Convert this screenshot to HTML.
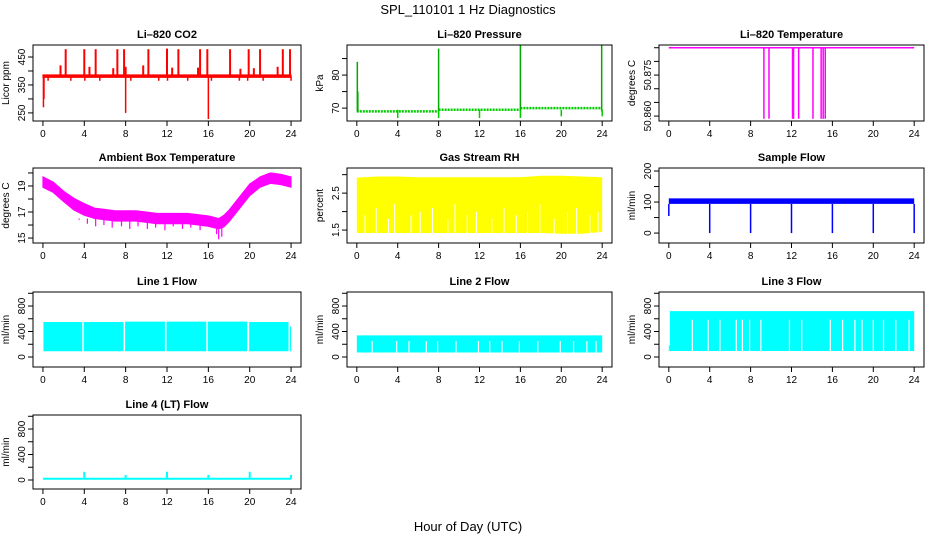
<!DOCTYPE html>
<html><head><meta charset="utf-8"><title>SPL_110101 1 Hz Diagnostics</title>
<style>
html,body{margin:0;padding:0;background:#fff;}
svg{display:block;font-family:"Liberation Sans",Arial,sans-serif;}
</style></head>
<body>
<svg id="chart" width="936" height="540" viewBox="0 0 936 540" xmlns="http://www.w3.org/2000/svg">
<text x="468" y="14" text-anchor="middle" font-size="13">SPL_110101  1 Hz Diagnostics</text>
<text x="468" y="531" text-anchor="middle" font-size="13">Hour of Day (UTC)</text>
</svg>
<script>
// ---- data ----
const xTicks = [0,4,8,12,16,20,24];
// CO2
const co2Base = 381;
const co2SpikeHours = [2.2,4.0,5.1,7.2,7.85,10.2,12.0,13.1,15.2,15.9,18.1,19.9,21.0,23.2,23.9,1.7,4.5,6.8,8.0,9.7,12.5,15.0,19.1,20.4,22.7];
const co2SpikeValues = [478,478,478,478,478,478,480,478,478,478,478,478,478,478,478,420,415,410,415,420,412,412,408,410,415];
const co2DipHours = [0.05,0.1,8.0,16.0,0.5,2.7,4.05,5.5,8.5,11.2,12.05,14.0,16.3,19.0,19.8,21.3,24.0];
const co2DipValues = [270,300,250,228,365,365,365,365,365,365,365,365,365,365,365,365,365];
// Pressure
const presStepHours = [0,8,16,24];
const presStepLevels = [69.0,69.5,70.0];
const presSpikeHours = [0.05,8.0,16.0,23.95,0.1];
const presSpikeValues = [84,88,89,89,75];
const presDipHours = [4,8,12,16,20,24];
const presDipValues = [67,67,67,67,67.5,67.5];
// Li-820 temperature
const ltBase = 50.885;
const ltDipHours = [9.3,9.8,12.1,12.2,12.7,14.1,14.9,15.1,15.3];
const ltDipValues = [50.859,50.859,50.859,50.859,50.859,50.859,50.859,50.859,50.859];
// Ambient box temperature (hourly)
const ambHours = [0,1,2,3,4,5,6,7,8,9,10,11,12,13,14,15,16,17,17.5,18,19,20,21,22,23,24];
const ambCenter = [19.3,18.9,18.2,17.6,17.2,16.9,16.8,16.7,16.7,16.7,16.6,16.5,16.5,16.5,16.5,16.4,16.3,16.1,16.3,16.7,17.7,18.7,19.3,19.6,19.5,19.3];
const ambHalf = [0.4,0.4,0.4,0.45,0.45,0.4,0.4,0.4,0.4,0.4,0.4,0.4,0.4,0.4,0.4,0.4,0.4,0.4,0.45,0.45,0.45,0.45,0.4,0.4,0.4,0.4];
const ambDipHours = [3.5,4.3,5.1,5.9,6.7,7.6,8.4,9.2,10.1,10.9,11.8,12.6,13.5,14.3,15.2,16.0,16.8,17.0,17.3];
const ambDipValues = [16.4,16.1,15.9,16.0,15.8,15.9,15.7,15.9,15.7,15.8,15.6,15.9,15.7,15.8,15.6,15.9,15.3,14.9,15.1];
// Gas stream RH
const rhHours = [0,2,4,6,8,10,12,14,16,18,20,22,24];
const rhUpper = [2.92,2.95,2.95,2.93,2.93,2.93,2.93,2.93,2.93,2.97,2.97,2.95,2.93];
const rhLower = [1.42,1.42,1.42,1.42,1.42,1.42,1.42,1.42,1.42,1.42,1.40,1.40,1.45];
const rhGapHours = [0.8,1.9,3.1,3.7,5.3,6.2,7.4,8.9,9.6,10.8,11.7,13.2,14.4,15.6,16.7,17.9,19.3,20.6,21.5,22.8,23.6];
const rhGapTops = [1.9,2.1,1.8,2.2,1.9,2.0,2.1,1.8,2.2,1.9,2.0,1.8,2.1,1.9,2.0,2.2,1.8,2.0,2.1,1.9,2.0];
// Sample flow
const sfLow = 94, sfHigh = 112;
const sfDipHours = [0.0,4.0,8.0,12.0,16.0,20.0,24.0];
const sfDipValues = [55,0,0,0,0,0,0];
// Line flows: segments [start,end]
const l1Segs = [[0.05,3.8],[3.95,7.8],[7.95,11.8],[11.95,15.8],[15.95,19.75],[19.95,23.75],[23.9,24.0]];
const l1High = [550,550,555,555,555,550,480];
const l1Low = [90,90,90,90,90,90,90];
const l2Low = 70, l2High = 340, l2GapTop = 250;
const l2Gaps = [1.5,3.9,5.1,6.8,7.9,9.7,11.9,13.0,14.2,15.9,17.7,19.9,21.2,22.5,23.4];
const l3Low = 95, l3High = 720, l3GapTop = 585;
const l3Gaps = [2.3,3.85,5.0,6.6,7.2,7.9,9.0,11.8,13.0,15.8,17.0,18.2,18.9,20.0,21.0,22.2,23.5];
const l4Base = 20;
const l4SpikeHours = [4,8,12,16,20,24];
const l4SpikeValues = [130,80,130,80,130,80];

// ---- helpers ----
const NS="http://www.w3.org/2000/svg";
const svg=document.getElementById('chart');
function mk(tag,attrs,parent){const e=document.createElementNS(NS,tag);for(const k in attrs)e.setAttribute(k,attrs[k]);(parent||svg).appendChild(e);return e;}
const cols=[[33,301],[347,612],[659,924]];
const rows=[[45,121],[168,243],[292,367],[415,489]];
function panel(name,title,ylab,c,r,ymin,ymax,yticks,ylabels){
  const [L,R]=cols[c],[T,B]=rows[r];
  const g=mk('g',{});
  
  
  const sx=v=>L+(v+0.96)/25.92*(R-L);
  const sy=v=>B-(v-ymin)/(ymax-ymin)*(B-T);
  const t=mk('text',{x:(L+R)/2,y:T-7,'text-anchor':'middle','font-size':11,'font-weight':'bold'},g);
  t.textContent=title;
  
  
  const yl=mk('text',{x:0,y:0,'text-anchor':'middle','font-size':10,transform:`translate(${L-24},${(T+B)/2}) rotate(-90)`},g);
  yl.textContent=ylab;
  
  
  const plot=mk('g',{},g);
  
  
  const box=mk('rect',{x:L,y:T,width:R-L,height:B-T,fill:'none',stroke:'#000','stroke-width':1},g);
  
  
  xTicks.forEach(v=>{
    mk('line',{x1:sx(v),x2:sx(v),y1:B,y2:B+5,stroke:'#000'},g);
    const tx=mk('text',{x:sx(v),y:B+16,'text-anchor':'middle','font-size':10},g);
    tx.textContent=v;
    
    
  });
  yticks.forEach((v,i)=>{
    mk('line',{x1:L,x2:L-5,y1:sy(v),y2:sy(v),stroke:'#000'},g);
    if(ylabels[i]!==''){
      const ty=mk('text',{x:0,y:0,'text-anchor':'middle','font-size':10,transform:`translate(${L-8},${sy(v)}) rotate(-90)`},g);
      ty.textContent=ylabels[i];
      
      
    }
  });
  return {sx,sy,g:plot,L,R,T,B};
}
function vline(p,x,y1,y2,col,w){return mk('line',{x1:p.sx(x),x2:p.sx(x),y1:p.sy(y1),y2:p.sy(y2),stroke:col,'stroke-width':w||1.5},p.g);}
function band(p,xs,lo,hi,col,sw){
  let d='M'+xs.map((x,i)=>p.sx(x)+','+p.sy(hi[i])).join('L');
  d+='L'+xs.map((x,i)=>p.sx(x)+','+p.sy(lo[i])).reverse().join('L')+'Z';
  return mk('path',{d,fill:col,stroke:sw?col:'none','stroke-width':sw||0},p.g);
}

// CO2
let p=panel('co2','Li\u2013820 CO2','Licor ppm',0,0,221,493,[250,300,350,400,450],['250','','350','','450']);
co2SpikeHours.forEach((h,i)=>vline(p,h,co2Base,co2SpikeValues[i],'#f00',2));
co2DipHours.forEach((h,i)=>vline(p,h,co2Base,co2DipValues[i],'#f00',1.5));
band(p,[0,24],[co2Base-4,co2Base-4],[co2Base+5,co2Base+5],'#f00',1);

// Pressure
p=panel('pressure','Li\u2013820 Pressure','kPa',1,0,66.1,89.1,[70,75,80,85],['70','','80','']);
presStepLevels.forEach((v,i)=>{mk('line',{x1:p.sx(presStepHours[i]),x2:p.sx(presStepHours[i+1]),y1:p.sy(v),y2:p.sy(v),stroke:'#0c0','stroke-width':2.5,'stroke-dasharray':'2 1'},p.g);});
presSpikeHours.forEach((h,i)=>vline(p,h,69,presSpikeValues[i],'#0a0',1.5));
presDipHours.forEach((h,i)=>vline(p,h,69.5,presDipValues[i],'#0c0',1.5));

// Li-820 temperature
p=panel('li820-temp','Li\u2013820 Temperature','degrees C',2,0,50.8582,50.886,[50.860,50.865,50.870,50.875,50.880,50.885],['50.860','','','50.875','','']);
mk('line',{x1:p.sx(0),x2:p.sx(24),y1:p.sy(ltBase),y2:p.sy(ltBase),stroke:'#f0f','stroke-width':1.5},p.g);
ltDipHours.forEach((h,i)=>vline(p,h,ltBase,ltDipValues[i],'#f0f',1.5));

// Ambient
p=panel('ambient-temp','Ambient Box Temperature','degrees C',0,1,14.62,20.38,[15,16,17,18,19,20],['15','','17','','19','']);
band(p,ambHours,ambCenter.map((c,i)=>c-ambHalf[i]),ambCenter.map((c,i)=>c+ambHalf[i]),'#f0f',1);
ambDipHours.forEach((h,i)=>vline(p,h,16.5,ambDipValues[i],'#f0f',1.2));

// RH
p=panel('gas-rh','Gas Stream RH','percent',1,1,1.15,3.18,[1.5,2.0,2.5,3.0],['1.5','','2.5','']);
band(p,rhHours,rhLower,rhUpper,'#ff0');
rhGapHours.forEach((h,i)=>vline(p,h,1.3,rhGapTops[i],'#fff',1));

// Sample flow
p=panel('sample-flow','Sample Flow','ml/min',2,1,-32,209.7,[0,50,100,150,200],['0','','100','','200']);
band(p,[0,24],[sfLow,sfLow],[sfHigh,sfHigh],'#00f');
sfDipHours.forEach((h,i)=>vline(p,h,sfLow,sfDipValues[i],'#00f',1.5));

// Line 1
p=panel('line1-flow','Line 1 Flow','ml/min',0,2,-157,1020,[0,200,400,600,800,1000],['0','','400','','800','']);
l1Segs.forEach((s,i)=>band(p,s,[l1Low[i],l1Low[i]],[l1High[i],l1High[i]],'#0ff'));

// Line 2
p=panel('line2-flow','Line 2 Flow','ml/min',1,2,-157,1020,[0,200,400,600,800,1000],['0','','400','','800','']);
band(p,[0,24],[l2Low,l2Low],[l2High,l2High],'#0ff');
l2Gaps.forEach(h=>vline(p,h,l2Low-5,l2GapTop,'#fff',1.2));

// Line 3
p=panel('line3-flow','Line 3 Flow','ml/min',2,2,-157,1020,[0,200,400,600,800,1000],['0','','400','','800','']);
band(p,[0.1,24],[l3Low,l3Low],[l3High,l3High],'#0ff');
band(p,[0,0.1],[l3Low,l3Low],[180,180],'#0ff');
l3Gaps.forEach(h=>vline(p,h,l3Low-5,l3GapTop,'#fff',1.2));

// Line 4
p=panel('line4-flow','Line 4 (LT) Flow','ml/min',0,3,-141,1020,[0,200,400,600,800,1000],['0','','400','','800','']);
band(p,[0,24],[l4Base-15,l4Base-15],[l4Base+15,l4Base+15],'#0ff');
l4SpikeHours.forEach((h,i)=>vline(p,h,l4Base,l4SpikeValues[i],'#0ff',2));
</script>
</body></html>
